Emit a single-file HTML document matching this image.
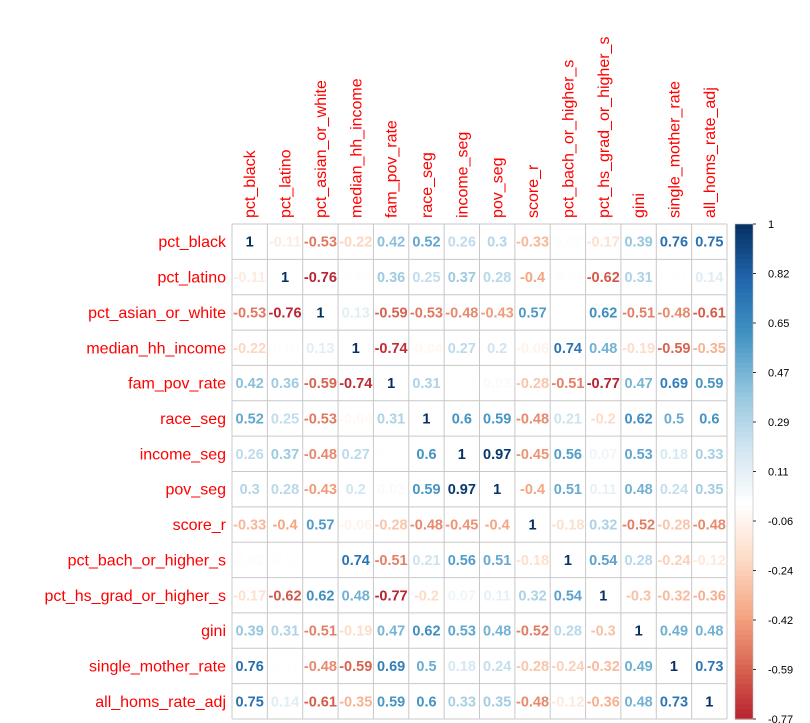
<!DOCTYPE html>
<html><head><meta charset="utf-8"><style>
html,body{margin:0;padding:0;background:#fff;}
svg{display:block;font-family:"Liberation Sans",Arial,sans-serif;}
</style></head><body>
<svg id="c" width="810" height="723"></svg>
<script>
const labels=["pct_black","pct_latino","pct_asian_or_white","median_hh_income","fam_pov_rate","race_seg","income_seg","pov_seg","score_r","pct_bach_or_higher_s","pct_hs_grad_or_higher_s","gini","single_mother_rate","all_homs_rate_adj"];
const corr=[
[1,-0.11,-0.53,-0.22,0.42,0.52,0.26,0.3,-0.33,0.02,-0.17,0.39,0.76,0.75],
[-0.11,1,-0.76,-0.01,0.36,0.25,0.37,0.28,-0.4,-0.01,-0.62,0.31,0.01,0.14],
[-0.53,-0.76,1,0.13,-0.59,-0.53,-0.48,-0.43,0.57,0,0.62,-0.51,-0.48,-0.61],
[-0.22,-0.01,0.13,1,-0.74,-0.04,0.27,0.2,-0.06,0.74,0.48,-0.19,-0.59,-0.35],
[0.42,0.36,-0.59,-0.74,1,0.31,0.01,0.03,-0.28,-0.51,-0.77,0.47,0.69,0.59],
[0.52,0.25,-0.53,-0.04,0.31,1,0.6,0.59,-0.48,0.21,-0.2,0.62,0.5,0.6],
[0.26,0.37,-0.48,0.27,0.01,0.6,1,0.97,-0.45,0.56,0.07,0.53,0.18,0.33],
[0.3,0.28,-0.43,0.2,0.03,0.59,0.97,1,-0.4,0.51,0.11,0.48,0.24,0.35],
[-0.33,-0.4,0.57,-0.06,-0.28,-0.48,-0.45,-0.4,1,-0.18,0.32,-0.52,-0.28,-0.48],
[0.02,-0.01,0,0.74,-0.51,0.21,0.56,0.51,-0.18,1,0.54,0.28,-0.24,-0.12],
[-0.17,-0.62,0.62,0.48,-0.77,-0.2,0.07,0.11,0.32,0.54,1,-0.3,-0.32,-0.36],
[0.39,0.31,-0.51,-0.19,0.47,0.62,0.53,0.48,-0.52,0.28,-0.3,1,0.49,0.48],
[0.76,0.01,-0.48,-0.59,0.69,0.5,0.18,0.24,-0.28,-0.24,-0.32,0.49,1,0.73],
[0.75,0.14,-0.61,-0.35,0.59,0.6,0.33,0.35,-0.48,-0.12,-0.36,0.48,0.73,1]];
const barTicks=["1","0.82","0.65","0.47","0.29","0.11","-0.06","-0.24","-0.42","-0.59","-0.77"];
const barMin=-0.77, barMax=1;

const pal=["#67001F","#B2182B","#D6604D","#F4A582","#FDDBC7","#FFFFFF","#D1E5F0","#92C5DE","#4393C3","#2166AC","#053061"];
function hex(h){return [1,3,5].map(i=>parseInt(h.substr(i,2),16));}
function color(v){const t=(v+1)/2*(pal.length-1);const i=Math.min(pal.length-2,Math.floor(t));const f=t-i;const a=hex(pal[i]),b=hex(pal[i+1]);return "rgb("+a.map((x,k)=>Math.round(x+(b[k]-x)*f)).join(",")+")";}
const svg=document.getElementById('c');const NS="http://www.w3.org/2000/svg";
function mk(tag,attrs,parent){const e=document.createElementNS(NS,tag);for(const k in attrs)e.setAttribute(k,attrs[k]);(parent||svg).appendChild(e);return e;}
const n=labels.length,X0=232,Y0=224,W=495,cw=W/n,ch=W/n;
const xs=i=>X0+i*cw, ys=j=>Y0+j*ch;
const grid=mk('g',{});


for(let i=0;i<=n;i++){
  mk('line',{x1:xs(i),y1:Y0,x2:xs(i),y2:Y0+W,stroke:"#c8c8c8","stroke-width":1},grid);
  mk('line',{x1:X0,y1:ys(i),x2:X0+W,y2:ys(i),stroke:"#c8c8c8","stroke-width":1},grid);
}
for(let r=0;r<n;r++){for(let c=0;c<n;c++){
  const v=corr[r][c];
  const t=mk('text',{x:xs(c)+cw/2,y:ys(r)+ch/2+5,"text-anchor":"middle","font-size":"14.5","font-weight":"bold",fill:color(v)});
  
  
  t.textContent=String(v);
}}
labels.forEach((l,i)=>{
  const t=mk('text',{x:226,y:ys(i)+ch/2+5.5,"text-anchor":"end","font-size":"16",fill:"#FF0000"});
  
  
  t.textContent=l;
  const cx=xs(i)+cw/2+5.5;
  const u=mk('text',{x:0,y:0,transform:"translate("+cx+",218) rotate(-90)","font-size":"16",fill:"#FF0000"});
  
  
  u.textContent=l;
});
const bx=735,bw=18,bt=224,bb=719;
const cb=mk('g',{});


const steps=100;
for(let k=0;k<steps;k++){
  const v1=barMax-(barMax-barMin)*k/steps, v2=barMax-(barMax-barMin)*(k+1)/steps;
  mk('rect',{x:bx,y:bt+(bb-bt)*k/steps,width:bw,height:(bb-bt)/steps+0.6,fill:color((v1+v2)/2)},cb);
}
mk('rect',{x:bx,y:bt,width:bw,height:bb-bt,fill:"none",stroke:"#bbb","stroke-width":0.6},cb);
barTicks.forEach((s,i)=>{
  const y=bt+(bb-bt)*i/(barTicks.length-1);
  mk('line',{x1:bx+bw,y1:y,x2:bx+bw+3,y2:y,stroke:"#000","stroke-width":0.8},cb);
  const t=mk('text',{x:768,y:y+4,"font-size":"11",fill:"#000"},cb);
  
  
  t.textContent=s;
});
</script>
</body></html>
